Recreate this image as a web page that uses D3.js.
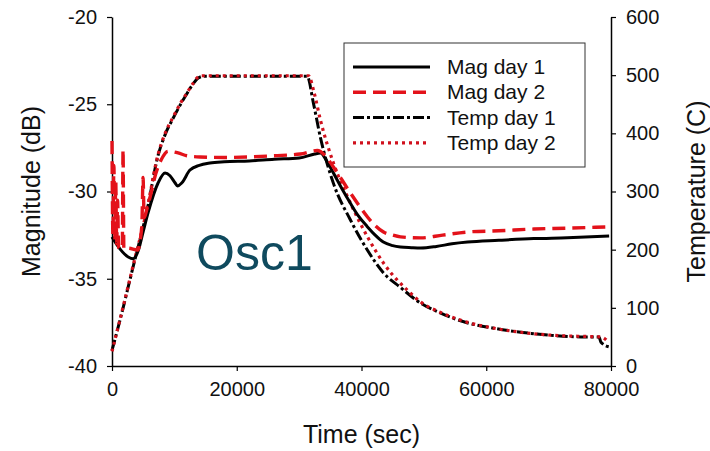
<!DOCTYPE html>
<html>
<head>
<meta charset="utf-8">
<script src="https://cdn.jsdelivr.net/npm/d3@7"></script>
<style>
  body { margin: 0; background: #fff; }
  svg { display: block; }
  text { font-family: "Liberation Sans", Arial, sans-serif; }
</style>
</head>
<body>
<svg width="710" height="451"></svg>
<script>
// time (sec) and values
const magDay1Time = [0, 1300, 2600, 3400, 4200, 5000, 5800, 7400, 8500, 9300, 10100, 10500, 11200, 12500, 14000, 15700, 18000, 22000, 26000, 30000, 32500, 33400, 34500, 35500, 36800, 38200, 39500, 40900, 42200, 43500, 45000, 46250, 48000, 49500, 52000, 54500, 57000, 62000, 67600, 73000, 79700]
const magDay1 = [-32.6, -33.3, -33.75, -33.85, -33.4, -32.3, -31.2, -29.5, -28.94, -29.1, -29.5, -29.68, -29.5, -28.77, -28.5, -28.37, -28.3, -28.25, -28.15, -28.08, -27.85, -27.8, -28.3, -28.94, -29.8, -30.66, -31.4, -32.0, -32.5, -32.9, -33.1, -33.18, -33.22, -33.24, -33.15, -33.0, -32.9, -32.8, -32.7, -32.65, -32.55]

const magDay2Time = [0, 150, 300, 450, 600, 750, 900, 1050, 1400, 1650, 1770, 1900, 2600, 4100, 4600, 4800, 4980, 5150, 5600, 6260, 7000, 7870, 9000, 10600, 12000, 14100, 18000, 22170, 26000, 30200, 32900, 34200, 35500, 36800, 38230, 39600, 40960, 42200, 43530, 45000, 46260, 49480, 53000, 57030, 62000, 67630, 73000, 79500]
const magDay2 = [-27.1, -32.5, -28.5, -32.8, -29.4, -33.0, -30.5, -33.2, -33.3, -33.2, -27.6, -33.3, -33.25, -33.35, -32.6, -31.8, -29.2, -31.5, -31.0, -30.1, -29.0, -28.2, -27.7, -27.79, -27.95, -28.02, -28.05, -28.02, -27.95, -27.85, -27.65, -27.95, -28.6, -29.3, -30.09, -30.8, -31.46, -31.95, -32.32, -32.5, -32.6, -32.66, -32.5, -32.32, -32.25, -32.15, -32.1, -32.03]

const tempDay1Time = [0, 1285, 3373, 5622, 7390, 8600, 9800, 11000, 12050, 13000, 13815, 14620, 31300, 32290, 33410, 35500, 38230, 40960, 43530, 46260, 49480, 52690, 57030, 61200, 65540, 70360, 75180, 78070, 78390, 79680]
const tempDay1 = [27, 79, 170, 268, 362, 400, 426, 450, 469, 485, 495, 498, 498, 452, 393, 314, 251, 199, 160, 135, 108, 91, 74, 65, 58, 53, 50, 50, 41, 33]

const tempDay2Time = [0, 1285, 3373, 5622, 7390, 8600, 9800, 11000, 12050, 13000, 13600, 14400, 31500, 32400, 33410, 35500, 38230, 40960, 43530, 47870, 49480, 52690, 57030, 61200, 65540, 70360, 75180, 78390, 79680]
const tempDay2 = [25, 80, 172, 270, 364, 402, 428, 452, 470, 486, 495, 499, 499, 470, 423, 349, 280, 222, 177, 125, 110, 92, 75, 65, 58, 53, 51, 50, 40]

const xTicks = [0, 20000, 40000, 60000, 80000]
const magTicks = [-40, -35, -30, -25, -20]
const tempTicks = [0, 100, 200, 300, 400, 500, 600]

const legendLabels = ['Mag day 1', 'Mag day 2', 'Temp day 1', 'Temp day 2']

const svg = d3.select('svg')
const width = +svg.attr('width')
const height = +svg.attr('height')
const margin = { top: 17, right: 99, bottom: 85, left: 112 }
const innerWidth = width - margin.left - margin.right
const innerHeight = height - margin.top - margin.bottom

const xScale = d3.scaleLinear().domain([0, 80000]).range([0, innerWidth])
const magScale = d3.scaleLinear().domain([-40, -20]).range([innerHeight, 0])
const tempScale = d3.scaleLinear().domain([0, 600]).range([innerHeight, 0])

const g = svg.append('g')
  .attr('transform', `translate(${margin.left}, ${margin.top})`)

// plain hyphen for negatives, as in the picture
const fmt = d => String(d)

const styleAxis = sel => {
  sel.attr('font-family', '"Liberation Sans", Arial, sans-serif').attr('font-size', 20)
  sel.selectAll('.domain').attr('stroke', '#000').attr('stroke-width', 1.5)
  sel.selectAll('.tick line').attr('stroke', '#000').attr('stroke-width', 1.2)
  sel.selectAll('.tick text').attr('fill', '#111')
}

const xAxisG = g.append('g')
  .attr('transform', `translate(0, ${innerHeight})`)
  .call(d3.axisBottom(xScale).tickValues(xTicks).tickFormat(fmt)
    .tickSize(5).tickPadding(11).tickSizeOuter(0))
styleAxis(xAxisG)

const yAxisG = g.append('g')
  .call(d3.axisLeft(magScale).tickValues(magTicks).tickFormat(fmt)
    .tickSize(5).tickPadding(10).tickSizeOuter(0))
styleAxis(yAxisG)

const y2AxisG = g.append('g')
  .attr('transform', `translate(${innerWidth}, 0)`)
  .call(d3.axisRight(tempScale).tickValues(tempTicks).tickFormat(fmt)
    .tickSize(5).tickPadding(10).tickSizeOuter(0))
styleAxis(y2AxisG)

// axis titles
g.append('text')
  .attr('x', innerWidth / 2)
  .attr('y', innerHeight + 77)
  .attr('text-anchor', 'middle')
  .style('font-size', '25px')
  .attr('fill', '#111')
  .text('Time (sec)')

g.append('text')
  .attr('transform', `translate(-72, ${innerHeight / 2}) rotate(-90)`)
  .attr('text-anchor', 'middle')
  .style('font-size', '25px')
  .attr('fill', '#111')
  .text('Magnitude (dB)')

g.append('text')
  .attr('transform', `translate(${innerWidth + 94}, ${innerHeight / 2}) rotate(-90)`)
  .attr('text-anchor', 'middle')
  .style('font-size', '25px')
  .attr('fill', '#111')
  .text('Temperature (C)')

const red = '#e3121a'
const series = [
  { times: tempDay1Time, values: tempDay1, scale: tempScale, color: '#000', width: 3, dash: '11,3,3,3' },
  { times: tempDay2Time, values: tempDay2, scale: tempScale, color: '#d0101c', width: 3.2, dash: '3,4' },
  { times: magDay1Time, values: magDay1, scale: magScale, color: '#000', width: 3, dash: null },
  { times: magDay2Time, values: magDay2, scale: magScale, color: red, width: 3.4, dash: '13,7' }
]

series.forEach(s => {
  const pts = s.times.map((t, i) => [t, s.values[i]])
  const line = d3.line()
    .x(d => xScale(d[0]))
    .y(d => s.scale(d[1]))
    .curve(d3.curveMonotoneX)
  g.append('path')
    .datum(pts)
    .attr('d', line)
    .attr('fill', 'none')
    .attr('stroke', s.color)
    .attr('stroke-width', s.width)
    .attr('stroke-dasharray', s.dash)
})

// label inside the plot
svg.append('text')
  .attr('x', 196)
  .attr('y', 270)
  .style('font-size', '50px')
  .attr('fill', '#0f4a5e')
  .text('Osc1')

// legend
const legend = svg.append('g')
legend.append('rect')
  .attr('x', 344).attr('y', 43)
  .attr('width', 241).attr('height', 124)
  .attr('fill', '#fff')
  .attr('stroke', '#333')
  .attr('stroke-width', 1)

const legendStyles = [series[2], series[3], series[0], series[1]]
legendLabels.forEach((label, i) => {
  const y = 67 + i * 25.3
  const s = legendStyles[i]
  legend.append('line')
    .attr('x1', 353).attr('x2', 430)
    .attr('y1', y).attr('y2', y)
    .attr('stroke', s.color)
    .attr('stroke-width', s.width)
    .attr('stroke-dasharray', s.dash)
  legend.append('text')
    .attr('x', 447).attr('y', y + 7)
    .style('font-size', '21px')
    .attr('fill', '#111')
    .text(label)
})
</script>
</body>
</html>
